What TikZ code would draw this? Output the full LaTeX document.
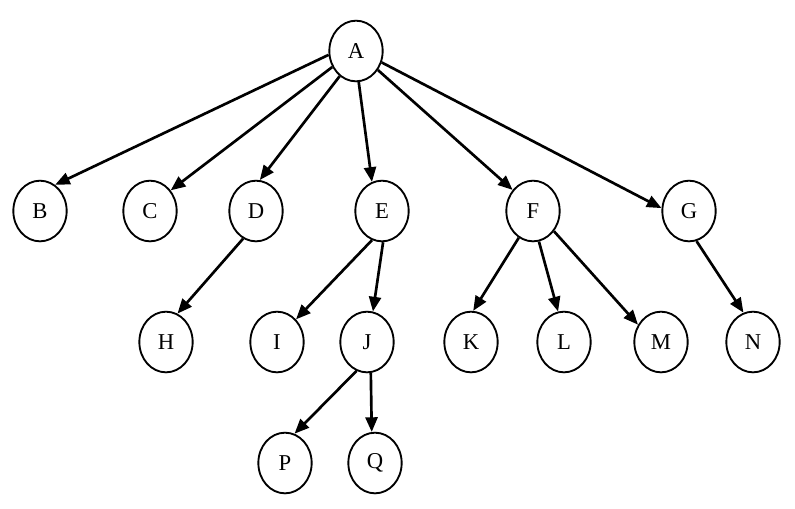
\documentclass[tikz,border=0pt]{standalone}
\usepackage{fontspec}
\setmainfont{Liberation Serif}
\usetikzlibrary{shapes.geometric,arrows.meta}
\begin{document}
\begin{tikzpicture}[x=0.75pt,y=-0.75pt,
  tnode/.style={ellipse,draw,line width=1.4pt,minimum width=40pt,minimum height=45.5pt,inner sep=0pt,font=\fontsize{17}{17}\selectfont},
  tedge/.style={line width=2pt,-{Triangle[length=11pt,width=9pt]}}]
\useasboundingbox (0,0) rectangle (795,508);
\node[tnode] (A) at (356,51) {A};
\node[tnode] (B) at (40,211) {B};
\node[tnode] (C) at (150,211) {C};
\node[tnode] (D) at (256,211) {D};
\node[tnode] (E) at (382,211) {E};
\node[tnode] (F) at (533,211) {F};
\node[tnode] (G) at (689,211) {G};
\node[tnode] (H) at (166,342) {H};
\node[tnode] (I) at (277,342) {I};
\node[tnode] (J) at (367,342) {J};
\node[tnode] (K) at (471,342) {K};
\node[tnode] (L) at (564,342) {L};
\node[tnode] (M) at (661,342) {M};
\node[tnode] (N) at (753,342) {N};
\node[tnode] (P) at (285,463) {P};
\node[tnode] (Q) at (375,463) {Q};
\foreach \a/\sa/\b/\eb in {A/188/B/60,A/214/C/45,A/237/D/83,A/275/E/109,A/319/F/134,A/336/G/174,
  D/245/H/68,E/251/I/50,E/272/J/79,F/242/K/86,F/281/L/101,F/316/M/143,G/284/N/108,J/250/P/72,J/277/Q/96}
  \draw[tedge] (\a.\sa) -- (\b.\eb);
\end{tikzpicture}
\end{document}
